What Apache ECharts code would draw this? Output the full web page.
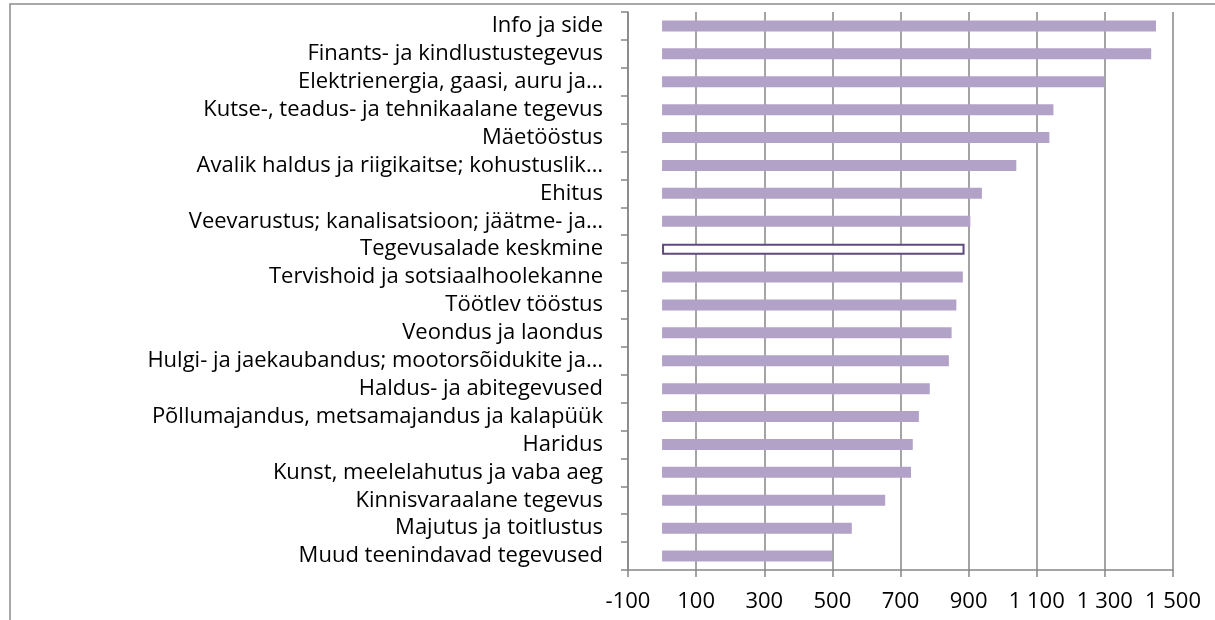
<!DOCTYPE html>
<html>
<head>
<meta charset="utf-8">
<script src="https://cdn.jsdelivr.net/npm/echarts@6/dist/echarts.min.js"></script>
<style>
  html, body { margin: 0; padding: 0; background: #fff; }
  #chart { width: 1215px; height: 620px; }
</style>
</head>
<body>
<div id="chart"></div>
<script>
// tegevusalad ülevalt alla
const categories = [
  'Info ja side',
  'Finants- ja kindlustustegevus',
  'Elektrienergia, gaasi, auru ja…',
  'Kutse-, teadus- ja tehnikaalane tegevus',
  'Mäetööstus',
  'Avalik haldus ja riigikaitse; kohustuslik…',
  'Ehitus',
  'Veevarustus; kanalisatsioon; jäätme- ja…',
  'Tegevusalade keskmine',
  'Tervishoid ja sotsiaalhoolekanne',
  'Töötlev tööstus',
  'Veondus ja laondus',
  'Hulgi- ja jaekaubandus; mootorsõidukite ja…',
  'Haldus- ja abitegevused',
  'Põllumajandus, metsamajandus ja kalapüük',
  'Haridus',
  'Kunst, meelelahutus ja vaba aeg',
  'Kinnisvaraalane tegevus',
  'Majutus ja toitlustus',
  'Muud teenindavad tegevused'
];
const values = [1450, 1436, 1299, 1149, 1137, 1040, 939, 905, 888, 883,
  864, 850, 842, 786, 754, 736, 731, 655, 557, 500];
const averageName = 'Tegevusalade keskmine';

const xMin = -100;
const xMax = 1500;
const xStep = 200;

const fmt = v => {
  const s = String(Math.abs(v)).replace(/\B(?=(\d{3})+(?!\d))/g, ' ');
  return (v < 0 ? '-' : '') + s;
};

const barData = values.map((v, i) => {
  if (categories[i] === averageName) {
    return {
      value: v,
      itemStyle: { color: '#ffffff', borderColor: '#604A7B', borderWidth: 2 }
    };
  }
  return v;
});

const axisGray = '#868686';
const font = 'Open Sans';

const chart = echarts.init(document.getElementById('chart'));
chart.setOption({
  animation: false,
  grid: { left: 628, right: 42, top: 12, bottom: 50, containLabel: false },
  graphic: [
    {
      type: 'polyline',
      shape: { points: [[10, 620], [10, 4], [1215, 4]] },
      style: { stroke: '#8c8c8c', lineWidth: 1.5, fill: null }
    }
  ],
  xAxis: {
    type: 'value',
    min: xMin,
    max: xMax,
    interval: xStep,
    axisLine: { show: true, onZero: false, lineStyle: { color: axisGray, width: 1.5 } },
    axisTick: { show: true, length: 7, lineStyle: { color: axisGray, width: 1.5 } },
    splitLine: { show: true, lineStyle: { color: axisGray, width: 1.5 } },
    axisLabel: {
      formatter: fmt,
      color: '#000',
      fontFamily: font,
      fontSize: 22,
      margin: 21
    }
  },
  yAxis: {
    type: 'category',
    inverse: true,
    data: categories,
    axisLine: { show: true, onZero: false, lineStyle: { color: axisGray, width: 1.5 } },
    axisTick: { show: true, length: 7, lineStyle: { color: axisGray, width: 1.5 } },
    axisLabel: {
      color: '#000',
      fontFamily: font,
      fontSize: 22,
      margin: 25,
      interval: 0
    }
  },
  series: [
    {
      type: 'bar',
      data: barData,
      barWidth: 11,
      itemStyle: { color: '#B3A2C7' }
    }
  ]
});
</script>
</body>
</html>
